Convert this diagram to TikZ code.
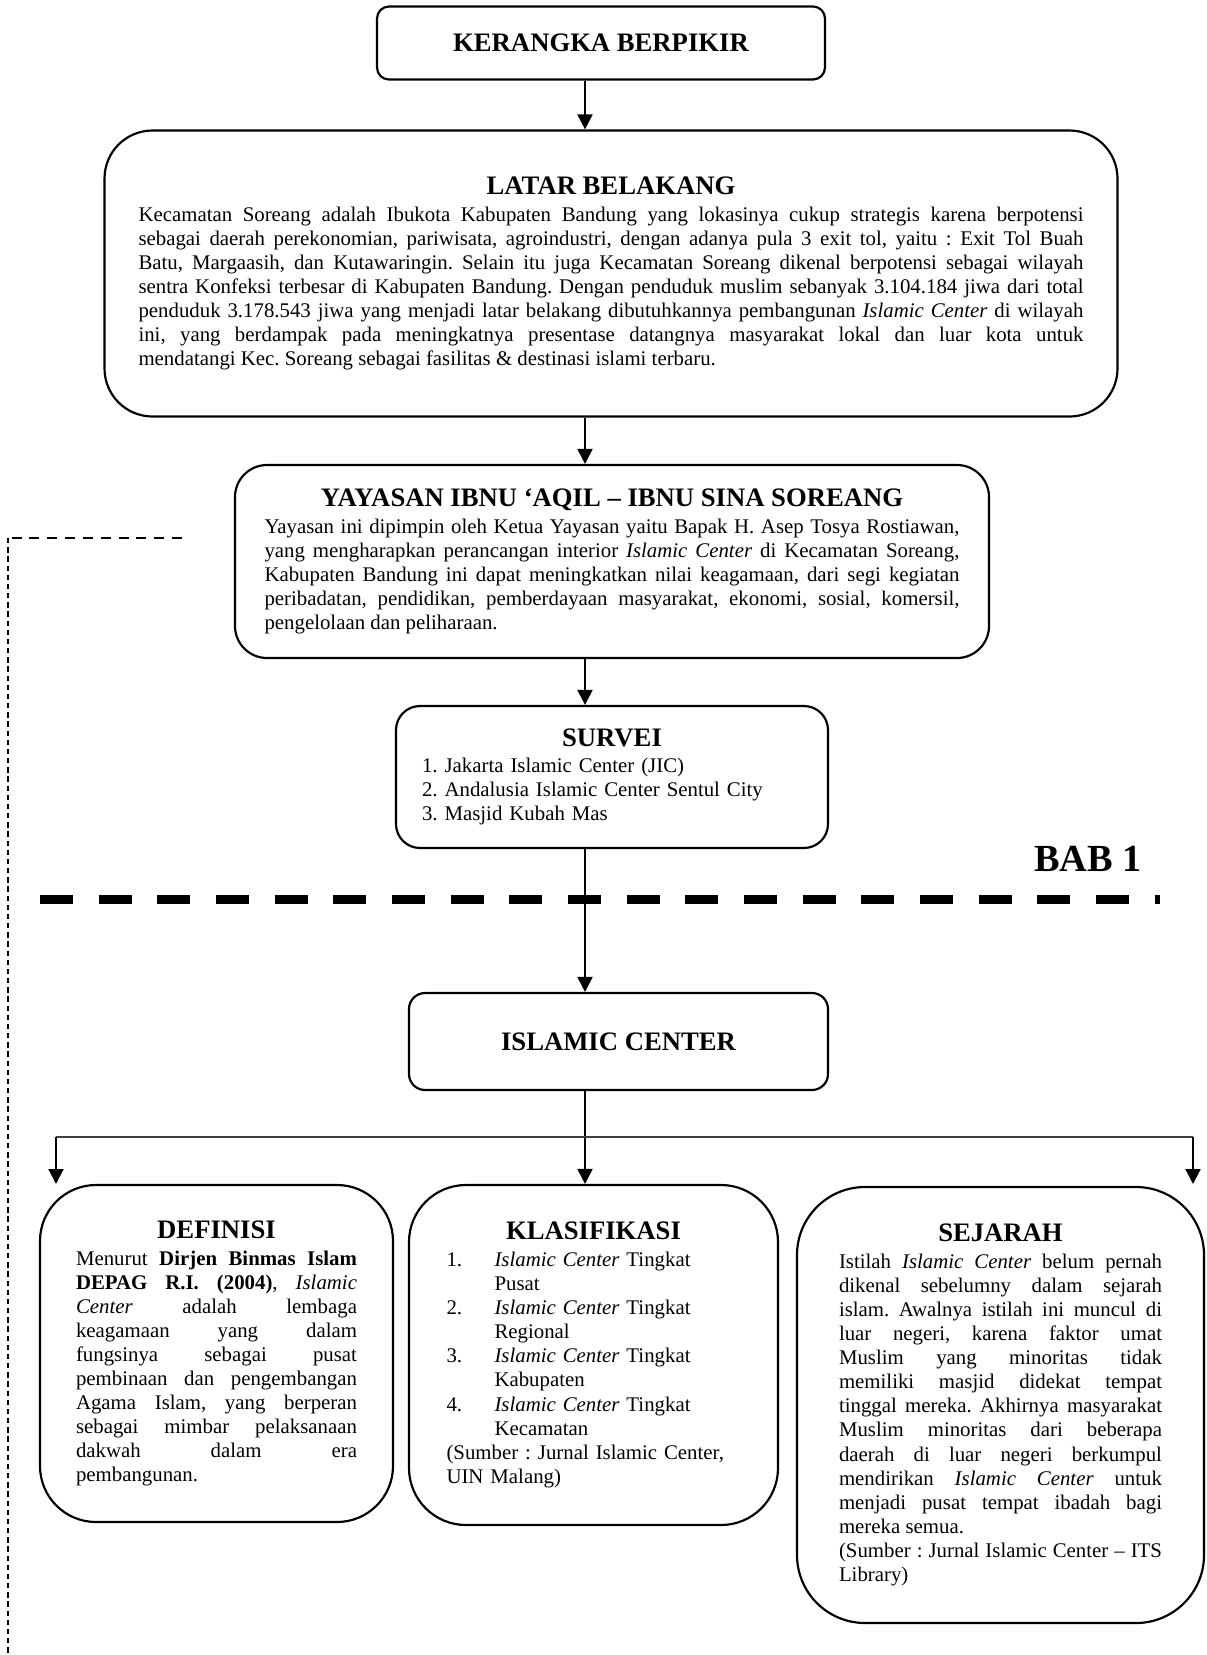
\documentclass[tikz,border=0pt]{standalone}
\usepackage{fontspec}
\setmainfont{Liberation Serif}
\usetikzlibrary{arrows.meta}
\newcommand{\boxtitle}[1]{{\centering\fontsize{16}{19}\selectfont\bfseries #1\par}\vspace{1.5pt}}
\newcommand{\itemno}[1]{\makebox[28.8pt][l]{#1}}
\newcommand{\itemgap}{\hspace*{28.8pt}}
\hyphenpenalty=10000
\tolerance=10000
\frenchspacing
\begin{document}
\begin{tikzpicture}[x=0.6pt,y=-0.6pt,frame/.style={draw,line width=1.3pt,inner sep=0pt,font=\fontsize{12.5}{14.45}\selectfont},heading/.style={font=\fontsize{16}{19}\selectfont\bfseries},arr/.style={line width=1.2pt,-{Triangle[length=9pt,width=9pt]}},branch/.style={line width=0.8pt,black!75},divider/.style={line width=5.4pt,dash pattern=on 19.8pt off 15.4pt},yayasanlink/.style={line width=1.2pt,dash pattern=on 6pt off 4.7pt},yayasandrop/.style={line width=0.7pt,dash pattern=on 3.2pt off 2.3pt}]
\useasboundingbox (0,0) rectangle (1207,1655);
\coordinate (K) at (601,43);
\coordinate (L) at (611,273.5);
\coordinate (Y) at (612,561.5);
\coordinate (S) at (612,777);
\coordinate (I) at (618.5,1041.5);
\coordinate (D) at (216.5,1353.5);
\coordinate (KL) at (593.5,1355);
\coordinate (SJ) at (1000.5,1405);
\coordinate (spine) at (585,0);
\coordinate (fork) at (585,1137);
\coordinate (forkL) at (56,1137);
\coordinate (forkR) at (1193,1137);
\coordinate (tipL) at (56,1184);
\coordinate (tipR) at (1193,1184);
\node[frame,heading,rounded corners=7.2pt,minimum width=268.8pt,minimum height=43.8pt] (kerangka) at (K) {KERANGKA BERPIKIR};
\node[frame,rounded corners=28.8pt,minimum width=607.8pt,minimum height=171.6pt,text width=567pt,align=justify] (latar) at (L) {\boxtitle{LATAR BELAKANG}Kecamatan Soreang adalah Ibukota Kabupaten Bandung yang lokasinya cukup strategis karena berpotensi\linebreak sebagai daerah perekonomian, pariwisata, agroindustri, dengan adanya pula 3 exit tol, yaitu : Exit Tol Buah\linebreak Batu, Margaasih, dan Kutawaringin. Selain itu juga Kecamatan Soreang dikenal berpotensi sebagai wilayah\linebreak sentra Konfeksi terbesar di Kabupaten Bandung. Dengan penduduk muslim sebanyak 3.104.184 jiwa dari total\linebreak penduduk 3.178.543 jiwa yang menjadi latar belakang dibutuhkannya pembangunan \textit{Islamic Center} di wilayah\linebreak ini, yang berdampak pada meningkatnya presentase datangnya masyarakat lokal dan luar kota untuk\linebreak mendatangi Kec. Soreang sebagai fasilitas \& destinasi islami terbaru.};
\node[frame,rounded corners=19.2pt,minimum width=452.4pt,minimum height=115.8pt,text width=417pt,align=justify] (yayasan) at (Y) {\boxtitle{YAYASAN IBNU ‘AQIL – IBNU SINA SOREANG}Yayasan ini dipimpin oleh Ketua Yayasan yaitu Bapak H. Asep Tosya Rostiawan,\linebreak yang mengharapkan perancangan interior \textit{Islamic Center} di Kecamatan Soreang,\linebreak Kabupaten Bandung ini dapat meningkatkan nilai keagamaan, dari segi kegiatan\linebreak peribadatan, pendidikan, pemberdayaan masyarakat, ekonomi, sosial, komersil,\linebreak pengelolaan dan peliharaan.};
\node[frame,rounded corners=14.4pt,minimum width=259.2pt,minimum height=85.2pt,text width=228pt,align=left] (survei) at (S) {\boxtitle{SURVEI}1. Jakarta Islamic Center (JIC)\\2. Andalusia Islamic Center Sentul City\\3. Masjid Kubah Mas};
\node[frame,heading,rounded corners=9.6pt,minimum width=251.4pt,minimum height=58.2pt] (islamic) at (I) {ISLAMIC CENTER};
\node[frame,rounded corners=33.6pt,minimum width=211.8pt,minimum height=202.2pt,text width=168.6pt,align=justify] (definisi) at (D) {\boxtitle{DEFINISI}Menurut \textbf{Dirjen Binmas Islam}\linebreak \textbf{DEPAG R.I. (2004)}, \textit{Islamic}\linebreak \textit{Center} adalah lembaga\linebreak keagamaan yang dalam\linebreak fungsinya sebagai pusat\linebreak pembinaan dan pengembangan\linebreak Agama Islam, yang berperan\linebreak sebagai mimbar pelaksanaan\linebreak dakwah dalam era\linebreak pembangunan.};
\node[frame,rounded corners=34.2pt,minimum width=221.4pt,minimum height=204pt,text width=176.4pt,align=left] (klasifikasi) at (KL) {\boxtitle{KLASIFIKASI}\itemno{1.}\textit{Islamic Center} Tingkat\\\itemgap Pusat\\\itemno{2.}\textit{Islamic Center} Tingkat\\\itemgap Regional\\\itemno{3.}\textit{Islamic Center} Tingkat\\\itemgap Kabupaten\\\itemno{4.}\textit{Islamic Center} Tingkat\\\itemgap Kecamatan\\(Sumber : Jurnal Islamic Center,\\UIN Malang)};
\node[frame,rounded corners=40.8pt,minimum width=244.2pt,minimum height=261.6pt,text width=193.8pt,align=justify] (sejarah) at (SJ) {\boxtitle{SEJARAH}Istilah \textit{Islamic Center} belum pernah\linebreak dikenal sebelumny dalam sejarah\linebreak islam. Awalnya istilah ini muncul di\linebreak luar negeri, karena faktor umat\linebreak Muslim yang minoritas tidak\linebreak memiliki masjid didekat tempat\linebreak tinggal mereka. Akhirnya masyarakat\linebreak Muslim minoritas dari beberapa\linebreak daerah di luar negeri berkumpul\linebreak mendirikan \textit{Islamic Center} untuk\linebreak menjadi pusat tempat ibadah bagi\linebreak mereka semua.\par (Sumber : Jurnal Islamic Center – ITS\linebreak Library)};
\node[font=\fontsize{23}{27}\selectfont\bfseries] (bab) at (1088,859) {BAB 1};
\draw[divider] (40,899) -- (1160,899);
\draw[yayasanlink] (182,538) -- (8,538);
\draw[yayasandrop] (8,538) -- (8,1655);
\draw[arr] (kerangka.south -| spine) -- (latar.north -| spine);
\draw[arr] (latar.south -| spine) -- (yayasan.north -| spine);
\draw[arr] (yayasan.south -| spine) -- (survei.north -| spine);
\draw[arr] (survei.south -| spine) -- (islamic.north -| spine);
\draw[line width=1.2pt] (islamic.south -| spine) -- (fork);
\draw[arr] (fork) -- (klasifikasi.north -| spine);
\draw[branch] (forkL) -- (forkR);
\draw[arr] (forkL) -- (tipL);
\draw[arr] (forkR) -- (tipR);
\end{tikzpicture}
\end{document}
